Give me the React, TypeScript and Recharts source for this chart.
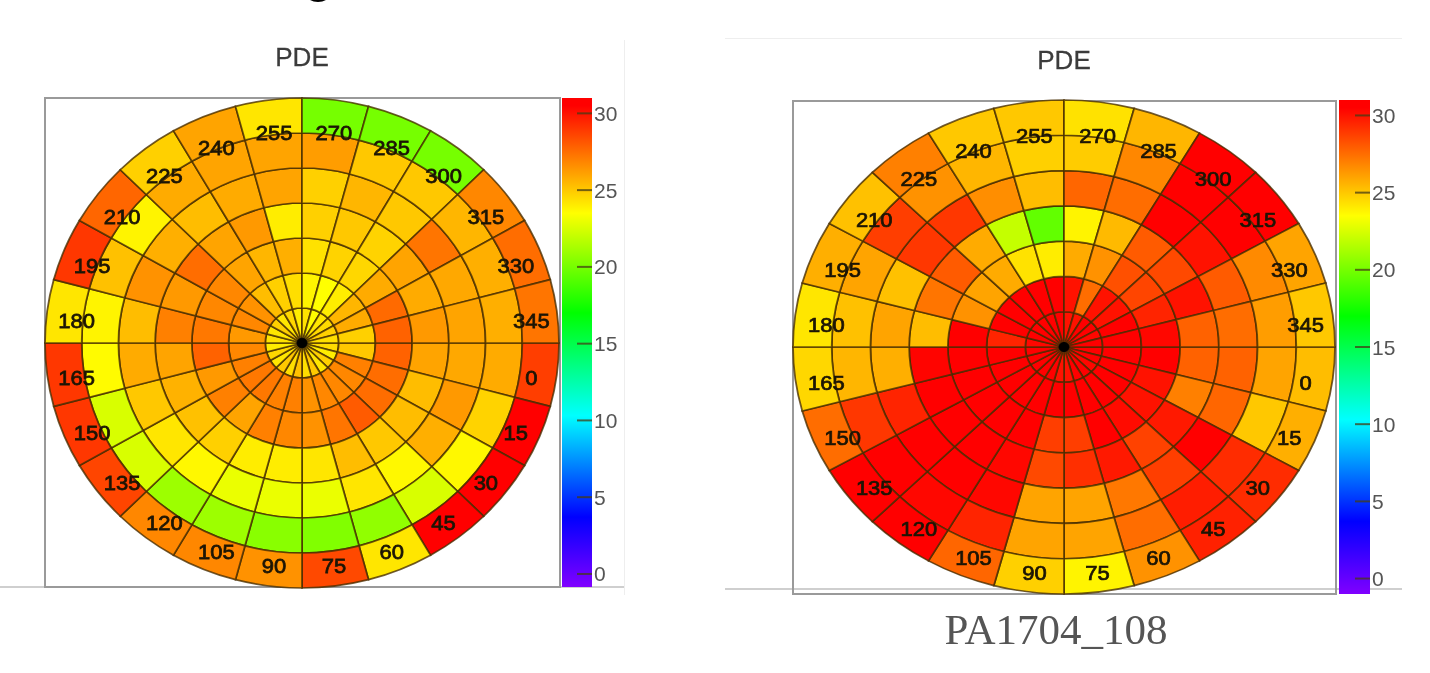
import { Bar, BarChart, Cell, Pie, PieChart, XAxis, YAxis } from "recharts";

// angle labels, clockwise from east
const angles = [0, 15, 30, 45, 60, 75, 90, 105, 120, 135, 150, 165, 180, 195, 210, 225, 240, 255, 270, 285, 300, 315, 330, 345];
const scaleTicks = [0, 5, 10, 15, 20, 25, 30];

// PDE per ring, ring 1 is the innermost one
const leftRing1 = [24.5, 24, 24.8, 24.2, 25, 24.4, 25.2, 24.4, 25, 24.2, 24.6, 24, 24.3, 24.2, 24.8, 24.2, 24.6, 24, 24.3, 23.6, 24.2, 24.5, 24.8, 24.4];
const leftRing2 = [25, 27, 26.8, 26.8, 26.8, 26.5, 27, 27, 27.2, 27.2, 27, 26.8, 26.3, 26.8, 26.5, 25.3, 24.8, 24.4, 23.8, 23.5, 24, 25.5, 25.8, 24.8];
const leftRing3 = [27.8, 27.5, 27.5, 28, 27.3, 26.5, 26.8, 27, 26, 27, 26.3, 27.8, 27.2, 26.8, 26.8, 26, 25.5, 25.7, 24.3, 24.7, 24.6, 25.8, 27.6, 27.8];
const leftRing4 = [26, 25.3, 25.3, 25, 25.3, 24.2, 24, 24, 24.8, 25.2, 25.6, 26, 27, 26.3, 27.5, 26, 26.3, 24, 24.8, 25, 24.7, 26, 25.8, 26.3];
const leftRing5 = [25.9, 26.3, 25.7, 23.7, 24.2, 23, 23, 23, 23.7, 24.2, 25, 25.8, 25.3, 26.5, 25.7, 25.3, 25.8, 26, 24.8, 25.5, 25, 27.3, 25.9, 26];
const leftRing6 = [25.8, 24.7, 23.7, 22.5, 20.7, 20.3, 20.5, 21, 21, 22.5, 22.5, 23.6, 23.8, 25.2, 23.8, 25.8, 26, 26, 26.2, 25, 25, 25.5, 25.7, 25.7];
const leftRing7 = [28.8, 30.5, 30.5, 30.5, 24.2, 28.5, 26.5, 26.8, 26.8, 28.6, 29, 29, 24.2, 29, 27.7, 24.8, 26, 24.2, 20, 20, 20, 26.8, 27.5, 27.3];

const rightRing1 = [30.5, 30.5, 30.3, 30.5, 30.5, 30, 30, 30.5, 30.5, 30.5, 30.5, 30.5, 30.3, 30.5, 30.5, 30.5, 30.5, 30.5, 30, 30, 30.5, 30.5, 30.3, 30.5];
const rightRing2 = [30.5, 30.5, 30.5, 30.5, 30.5, 30.5, 30.5, 30.5, 30.5, 30.5, 30.5, 30.5, 29.5, 30.5, 30.5, 30.5, 30.5, 30.5, 30, 27.5, 30, 30, 30.5, 30.5];
const rightRing3 = [30.5, 30, 30, 30.2, 30.5, 28.8, 28.8, 30.5, 30.5, 30.5, 30.5, 30.5, 30.5, 26.5, 26, 25.8, 24.3, 24, 25.8, 26.5, 28.3, 28.6, 29.5, 30.3];
const rightRing4 = [27.8, 27, 29.8, 28.7, 29.8, 29.2, 28.5, 30.3, 30.5, 30.5, 30.5, 30.4, 25.3, 27.3, 28, 25.8, 22, 19.5, 23.8, 25.4, 28, 28.5, 30, 27.8];
const rightRing5 = [27.8, 27.7, 30.5, 28.8, 27.2, 26, 26, 30.3, 30.5, 30.5, 29.5, 25.7, 26, 25.2, 29, 29, 26.6, 25.3, 27.7, 27.5, 30.5, 30, 28, 27.5];
const rightRing6 = [26, 25, 29.3, 29.7, 27.5, 26, 26, 29.5, 30.3, 30.5, 29, 25.5, 25.2, 26, 28.8, 26.5, 25.5, 24.8, 24.9, 26.8, 30.5, 30.5, 26.7, 26.2];
const rightRing7 = [25.3, 25.7, 29.3, 29.6, 26.5, 23.8, 24.8, 27.7, 30.5, 30.5, 27.5, 24.6, 24.2, 25.7, 25.2, 27, 25, 25, 24.3, 25.5, 30.5, 30.5, 26, 25];

const leftRings = [leftRing1, leftRing2, leftRing3, leftRing4, leftRing5, leftRing6, leftRing7];
const rightRings = [rightRing1, rightRing2, rightRing3, rightRing4, rightRing5, rightRing6, rightRing7];

// rainbow palette of the colour bar
const paletteValues = [-1, 3.7, 10.3, 17, 23.5, 30.5, 31];
const paletteColors = [[128, 0, 255], [0, 0, 255], [0, 255, 255], [0, 255, 0], [255, 255, 0], [255, 0, 0], [255, 0, 0]];

function pdeColor(v: number) {
    let i = 0;
    while (i < paletteValues.length - 2 && v > paletteValues[i + 1]) i++;
    const t = Math.min(1, Math.max(0, (v - paletteValues[i]) / (paletteValues[i + 1] - paletteValues[i])));
    const c = paletteColors[i].map((p, j) => Math.round(p + (paletteColors[i + 1][j] - p) * t));
    return `rgb(${c[0]},${c[1]},${c[2]})`;
}

const FONT = "'Liberation Sans', Arial, sans-serif";

function PolarMap({ rings, cx, cy, rx, ry }: { rings: number[][]; cx: number; cy: number; rx: number; ry: number }) {
    const k = ry / rx;
    const half = rx + 4;
    const step = rx / rings.length;

    const renderLabel = (p: any) => {
        const a = (-p.midAngle * Math.PI) / 180;
        const r = rx * 0.892;
        return (
            <text
                x={half + 2 + r * Math.cos(a)}
                y={half + 7 / k + r * Math.sin(a)}
                textAnchor="middle"
                dominantBaseline="central"
                fontFamily={FONT}
                fontSize={22}
                fill="#1c1505"
                stroke="#1c1505"
                strokeWidth={0.8}
            >
                {angles[p.index]}
            </text>
        );
    };

    return (
        <div style={{ position: "absolute", left: cx - half, top: cy - half, transform: `scaleY(${k})`, transformOrigin: "center" }}>
            <PieChart width={half * 2} height={half * 2} margin={{ top: 0, right: 0, bottom: 0, left: 0 }}>
                {rings.map((ring, i) => (
                    <Pie
                        key={i}
                        data={ring.map((pde, j) => ({ angle: angles[j], pde, size: 1 }))}
                        dataKey="size"
                        cx={half}
                        cy={half}
                        innerRadius={i * step}
                        outerRadius={(i + 1) * step}
                        startAngle={0}
                        endAngle={-360}
                        stroke="rgba(70,45,0,0.78)"
                        strokeWidth={1.8}
                        isAnimationActive={false}
                        labelLine={false}
                        label={i === rings.length - 1 ? renderLabel : false}
                    >
                        {ring.map((pde, j) => (
                            <Cell key={j} fill={pdeColor(pde)} />
                        ))}
                    </Pie>
                ))}
                <Pie data={[{ size: 1 }]} dataKey="size" cx={half} cy={half} innerRadius={0} outerRadius={5} fill="#000" stroke="#000" isAnimationActive={false} />
            </PieChart>
        </div>
    );
}

function ColorBar({ id, left, top, height, min, width }: { id: string; left: number; top: number; height: number; min: number; width: number }) {
    const max = 31;
    const stops = paletteValues.map((v, i) => ({
        offset: `${(Math.max(0, (max - v) / (max - min)) * 100).toFixed(2)}%`,
        color: `rgb(${paletteColors[i].join(",")})`,
    }));

    const renderTick = (p: any) => (
        <g>
            <line x1={p.x - 17} x2={p.x - 2} y1={p.y} y2={p.y} stroke="rgba(70,60,20,0.75)" strokeWidth={2} />
            <text x={p.x} y={p.y} dominantBaseline="central" fontFamily={FONT} fontSize={21} fill="#555">
                {p.payload.value}
            </text>
        </g>
    );

    return (
        <div style={{ position: "absolute", left, top }}>
            <BarChart
                width={width + 36}
                height={height}
                data={[{ name: "PDE", range: [min, max] }]}
                margin={{ top: 0, right: 0, bottom: 0, left: 0 }}
                barCategoryGap={0}
            >
                <defs>
                    <linearGradient id={id} x1="0" y1="0" x2="0" y2="1">
                        {stops.slice().reverse().map((s, i) => (
                            <stop key={i} offset={s.offset} stopColor={s.color} />
                        ))}
                    </linearGradient>
                </defs>
                <XAxis dataKey="name" hide />
                <YAxis
                    orientation="right"
                    type="number"
                    domain={[min, max]}
                    ticks={scaleTicks}
                    width={36}
                    axisLine={false}
                    tickLine={false}
                    tick={renderTick}
                    tickMargin={0}
                    tickSize={2}
                    interval={0}
                    allowDataOverflow
                />
                <Bar dataKey="range" fill={`url(#${id})`} isAnimationActive={false} />
            </BarChart>
        </div>
    );
}

const rule = (left: number, top: number, width: number, height: number, background: string) => (
    <div style={{ position: "absolute", left, top, width, height, background }} />
);

export default function App() {
    return (
        <div style={{ position: "absolute", left: 0, top: 0, width: 1430, height: 673, overflow: "hidden", background: "#fff", filter: "blur(0.5px)" }}>
            {/* bottom of a heading that is cut off by the page edge */}
            <div style={{ position: "absolute", left: 306, top: -14, width: 24, height: 16, borderRadius: "50%", background: "#000" }} />

            {rule(0, 586, 625, 2, "#cfcfcf")}
            {rule(624, 40, 1, 555, "#eeeeee")}
            {rule(725, 38, 677, 1, "#eeeeee")}
            {rule(725, 588, 677, 2, "#cfcfcf")}

            <div style={{ position: "absolute", left: 202, width: 200, top: 42, textAlign: "center", fontFamily: FONT, fontSize: 26, lineHeight: "30px", color: "#3c3c3c", WebkitTextStroke: "0.3px #3c3c3c" }}>PDE</div>
            <div style={{ position: "absolute", left: 964, width: 200, top: 45, textAlign: "center", fontFamily: FONT, fontSize: 26, lineHeight: "30px", color: "#3c3c3c", WebkitTextStroke: "0.3px #3c3c3c" }}>PDE</div>

            <div style={{ position: "absolute", left: 44, top: 97, width: 513, height: 487, border: "2px solid #9a9a9a" }} />
            <div style={{ position: "absolute", left: 792, top: 100, width: 541, height: 491, border: "2px solid #9a9a9a" }} />

            <PolarMap rings={leftRings} cx={302} cy={343} rx={257} ry={245} />
            <PolarMap rings={rightRings} cx={1064} cy={347} rx={271} ry={247} />

            <ColorBar id="scaleLeft" left={562} top={98} height={489} min={-0.85} width={30} />
            <ColorBar id="scaleRight" left={1339} top={100} height={494} min={-1} width={31} />

            <div style={{ position: "absolute", left: 906, width: 300, top: 605, textAlign: "center", fontFamily: "'Liberation Serif', serif", fontSize: 43, lineHeight: "50px", color: "#555" }}>PA1704_108</div>
        </div>
    );
}
